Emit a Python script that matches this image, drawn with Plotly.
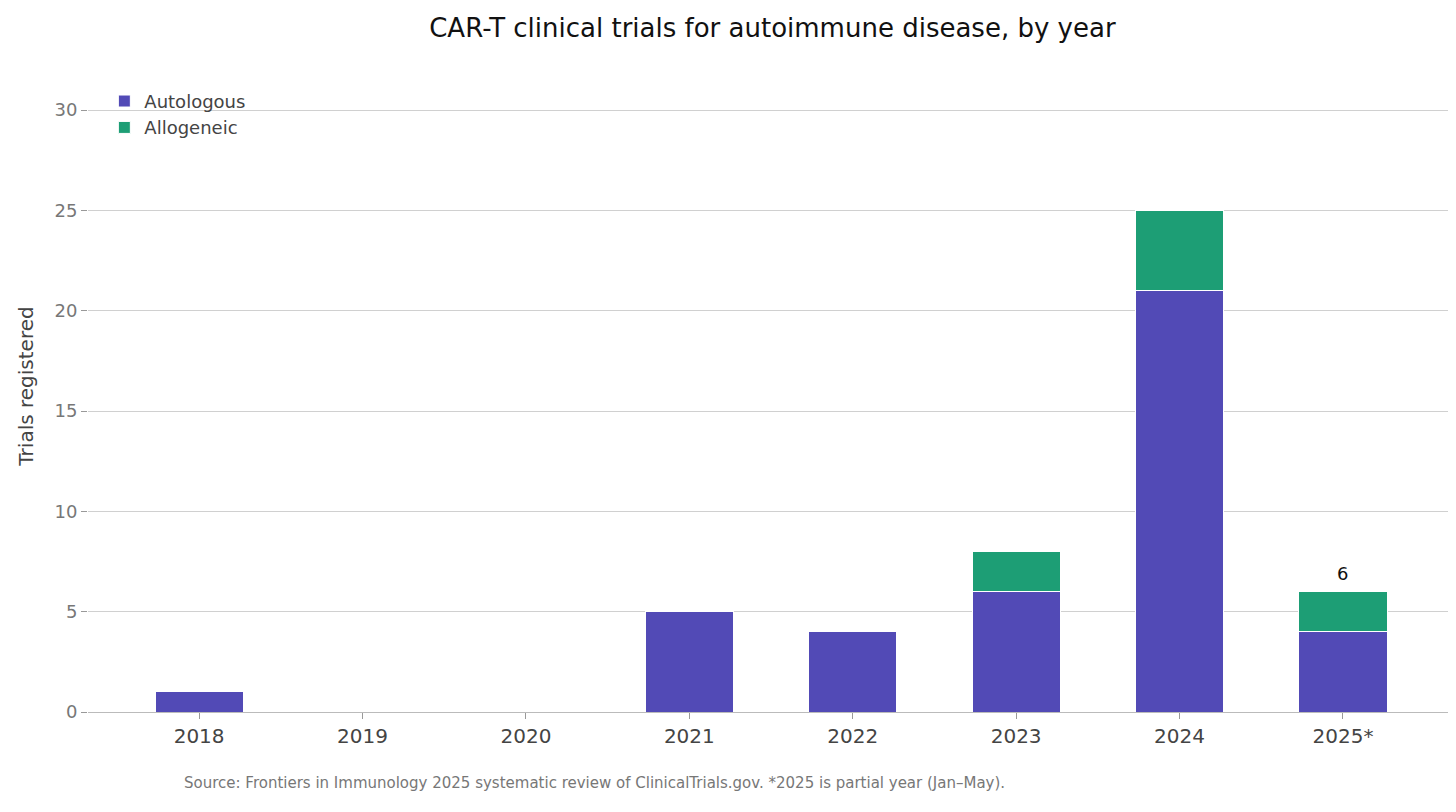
import plotly.graph_objects as go

years = ["2018", "2019", "2020", "2021", "2022", "2023", "2024", "2025*"]
autologous = [1, 0, 0, 5, 4, 6, 21, 4]
allogeneic = [0, 0, 0, 0, 0, 2, 4, 2]
totals = [a + b for a, b in zip(autologous, allogeneic)]

fig = go.Figure()
fig.add_trace(go.Bar(x=years, y=autologous, name="Autologous", marker_color="#524AB6",
                     marker_line=dict(color="white", width=1), width=0.54))
fig.add_trace(go.Bar(x=years, y=allogeneic, name="Allogeneic", marker_color="#1D9E75",
                     marker_line=dict(color="white", width=1), width=0.54))
for yr, t in zip(years, totals):
    if t > 0:
        fig.add_annotation(x=yr, y=t, text=str(t), showarrow=False, yanchor="bottom", yshift=6,
                           font=dict(size=18, color="#111"))

fig.update_layout(
    barmode="stack",
    width=1456, height=812,
    margin=dict(l=80, r=14, t=52, b=108),
    plot_bgcolor="white", paper_bgcolor="white",
    font=dict(family="DejaVu Sans", size=18, color="#444"),
    title=dict(text="CAR-T clinical trials for autoimmune disease, by year", x=0.525, y=0.975,
               xanchor="center", yanchor="middle", font=dict(size=26, color="#111")),
    legend=dict(x=0.012, y=0.965, xanchor="left", yanchor="top", bgcolor="rgba(0,0,0,0)",
                font=dict(size=18, color="#444"), traceorder="normal"),
)
fig.update_yaxes(range=[0, 32.5], tickvals=[0, 5, 10, 15, 20, 25, 30], showgrid=True,
                 gridcolor="#d0d0d0", zeroline=False, showline=False,
                 tickfont=dict(color="#777", size=18), ticks="outside", ticklen=6, tickcolor="#999",
                 title=dict(text="Trials registered", font=dict(size=20, color="#444")))
fig.update_xaxes(range=[-0.68, 7.655], showline=True, linecolor="#bbb",
                 tickfont=dict(size=20, color="#444"),
                 ticks="outside", ticklen=6, tickcolor="#999")
fig.add_annotation(text="Source: Frontiers in Immunology 2025 systematic review of ClinicalTrials.gov. *2025 is partial year (Jan–May).",
                   xref="paper", yref="paper", x=0.069, y=-0.092, xanchor="left", yanchor="top",
                   showarrow=False, font=dict(size=15, color="#777"))
fig.write_html("out.html")
